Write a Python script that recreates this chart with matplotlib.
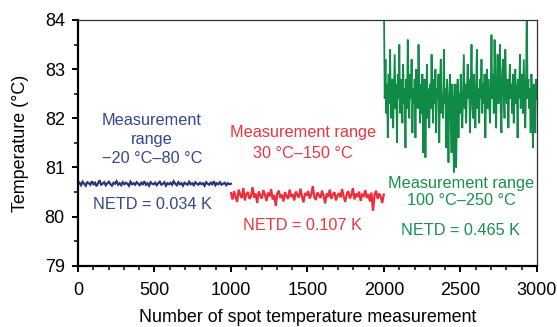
import numpy as np
import matplotlib
matplotlib.use("Agg")
import matplotlib.pyplot as plt
from matplotlib.ticker import MultipleLocator

plt.rcParams['font.family'] = ['Liberation Sans', 'DejaVu Sans']

# ---- data ----
segment_starts = [0, 1000, 2000]
segment_len = 1000

blue_vals = [
    80.66, 80.69, 80.64, 80.71, 80.67, 80.63, 80.70, 80.68, 80.65, 80.72,
    80.66, 80.69, 80.62, 80.68, 80.74, 80.65, 80.67, 80.70, 80.64, 80.68,
    80.71, 80.66, 80.63, 80.69, 80.67, 80.72, 80.65, 80.68, 80.64, 80.70,
    80.66, 80.69, 80.67, 80.63, 80.71, 80.66, 80.68, 80.65, 80.70, 80.67,
    80.64, 80.69, 80.66, 80.72, 80.65, 80.68, 80.63, 80.70, 80.67, 80.66,
    80.69, 80.64, 80.68, 80.71, 80.65, 80.67, 80.70, 80.63, 80.68, 80.66,
    80.69, 80.65, 80.72, 80.67, 80.64, 80.70, 80.66, 80.68, 80.63, 80.69,
    80.67, 80.65, 80.71, 80.66, 80.68, 80.64, 80.70, 80.67, 80.65, 80.69,
    80.66, 80.68, 80.63, 80.70, 80.67, 80.65, 80.69, 80.66, 80.72, 80.64,
    80.68, 80.66, 80.70, 80.65, 80.67, 80.69, 80.64, 80.68, 80.66, 80.67,
]

red_vals = [
    80.48, 80.35, 80.52, 80.40, 80.30, 80.55, 80.44, 80.38, 80.58, 80.33,
    80.46, 80.50, 80.36, 80.42, 80.60, 80.39, 80.47, 80.28, 80.51, 80.43,
    80.37, 80.54, 80.45, 80.32, 80.49, 80.41, 80.56, 80.35, 80.44, 80.22,
    80.47, 80.53, 80.38, 80.45, 80.31, 80.50, 80.42, 80.36, 80.55, 80.40,
    80.46, 80.33, 80.51, 80.44, 80.39, 80.57, 80.41, 80.29, 80.48, 80.43,
    80.52, 80.37, 80.45, 80.62, 80.40, 80.34, 80.49, 80.44, 80.38, 80.53,
    80.42, 80.27, 80.47, 80.40, 80.55, 80.36, 80.45, 80.50, 80.33, 80.43,
    80.48, 80.39, 80.56, 80.41, 80.30, 80.46, 80.52, 80.37, 80.44, 80.58,
    80.35, 80.47, 80.40, 80.51, 80.32, 80.45, 80.42, 80.54, 80.38, 80.46,
    80.31, 80.49, 80.12, 80.44, 80.53, 80.36, 80.47, 80.41, 80.28, 80.45,
]

green_vals = [
    84.30, 82.40, 83.20, 82.10, 82.70, 81.60, 82.90, 82.30, 83.40, 82.00,
    82.60, 82.80, 81.80, 82.50, 83.30, 82.20, 82.70, 81.50, 82.90, 82.40,
    83.50, 82.10, 82.60, 82.80, 81.90, 83.10, 82.30, 82.60, 81.40, 82.80,
    82.20, 83.60, 82.50, 82.00, 82.90, 82.40, 83.20, 81.70, 82.60, 82.30,
    82.80, 81.60, 83.00, 82.40, 82.20, 83.50, 82.60, 81.90, 82.70, 82.10,
    82.90, 81.30, 82.50, 82.80, 81.20, 82.40, 83.10, 82.00, 82.60, 81.80,
    82.70, 82.20, 83.30, 82.50, 81.90, 82.80, 82.30, 83.00, 81.70, 82.60,
    82.40, 82.90, 81.50, 82.70, 83.20, 82.10, 82.50, 82.00, 83.40, 82.30,
    82.60, 81.40, 82.80, 82.20, 81.10, 82.50, 82.90, 82.00, 81.30, 82.70,
    82.30, 80.90, 82.40, 82.70, 81.00, 82.20, 82.80, 81.60, 82.50, 82.10,
    82.90, 82.30, 81.80, 82.60, 83.30, 82.20, 82.70, 81.90, 82.50, 83.10,
    82.40, 82.80, 81.70, 82.60, 83.50, 82.30, 82.00, 82.90, 82.50, 81.80,
    82.70, 83.40, 82.20, 82.60, 81.90, 82.80, 82.40, 83.20, 82.10, 82.70,
    82.30, 82.90, 81.60, 82.50, 83.00, 82.20, 82.80, 82.40, 81.90, 82.60,
    83.70, 82.40, 82.90, 82.10, 83.60, 82.60, 81.80, 82.80, 83.30, 82.30,
    82.70, 83.50, 82.20, 81.70, 82.90, 83.20, 82.50, 82.00, 83.40, 82.60,
    82.30, 82.80, 81.80, 82.60, 83.10, 82.40, 82.70, 82.10, 82.90, 81.90,
    82.50, 83.00, 82.30, 82.70, 81.60, 82.80, 82.40, 83.30, 82.20, 82.60,
    82.90, 82.10, 83.20, 82.50, 81.80, 82.70, 84.30, 82.40, 82.80, 82.20,
    82.60, 81.70, 82.90, 82.30, 81.40, 82.70, 82.50, 81.70, 82.80, 82.40,
]

series_colors = ['#27357a', '#ee2d3a', '#0f8a47']
series_widths = [1.6, 1.6, 1.3]
text_colors = ['#34468a', '#ec3540', '#17904e']

range_labels = ['Measurement\nrange\n\u221220 \u00b0C\u201380 \u00b0C',
                'Measurement range\n30 \u00b0C\u2013150 \u00b0C',
                'Measurement range\n100 \u00b0C\u2013250 \u00b0C']
netd_labels = ['NETD = 0.034 K', 'NETD = 0.107 K', 'NETD = 0.465 K']

x_ticks = [0, 500, 1000, 1500, 2000, 2500, 3000]
y_ticks = [79, 80, 81, 82, 83, 84]

# ---- figure ----
fig = plt.figure(figsize=(5.57, 3.27), dpi=100)
ax = fig.add_axes([0.140, 0.187, 0.824, 0.752])

for start, vals, col, lw in zip(segment_starts, [blue_vals, red_vals, green_vals],
                                series_colors, series_widths):
    xs = np.linspace(start, start + segment_len - 1, len(vals))
    ax.plot(xs, vals, color=col, lw=lw, solid_joinstyle='miter')

ax.set_xlim(0, 3000)
ax.set_ylim(79, 84)
ax.set_xticks(x_ticks)
ax.set_yticks(y_ticks)
ax.xaxis.set_minor_locator(MultipleLocator(100))
ax.yaxis.set_minor_locator(MultipleLocator(0.5))
ax.tick_params(which='major', direction='out', length=4.5, width=1.4, labelsize=13, pad=5)
ax.tick_params(axis='x', which='major', pad=7)
ax.tick_params(which='minor', direction='out', length=3, width=1.1)

for s in ['left', 'bottom']:
    ax.spines[s].set_linewidth(1.6)
    ax.spines[s].set_color('black')
for s in ['top', 'right']:
    ax.spines[s].set_linewidth(0.9)
    ax.spines[s].set_color('#333333')

ax.set_xlabel('Number of spot temperature measurement', fontsize=12.9, labelpad=7)
ax.set_ylabel('Temperature (\u00b0C)', fontsize=12.9, labelpad=11)

# annotations
range_pos = [(484, 81.57), (1470, 81.50), (2503, 80.50)]
range_spacing = [1.33, 1.48, 1.23]
netd_pos = [(484, 80.25), (1470, 79.82), (2503, 79.72)]
for (x, y), t, c, ls in zip(range_pos, range_labels, text_colors, range_spacing):
    ax.text(x, y, t, color=c, fontsize=11.7, ha='center', va='center', linespacing=ls)
for (x, y), t, c in zip(netd_pos, netd_labels, text_colors):
    ax.text(x, y, t, color=c, fontsize=11.7, ha='center', va='center')

fig.savefig('out.png', dpi=100)
